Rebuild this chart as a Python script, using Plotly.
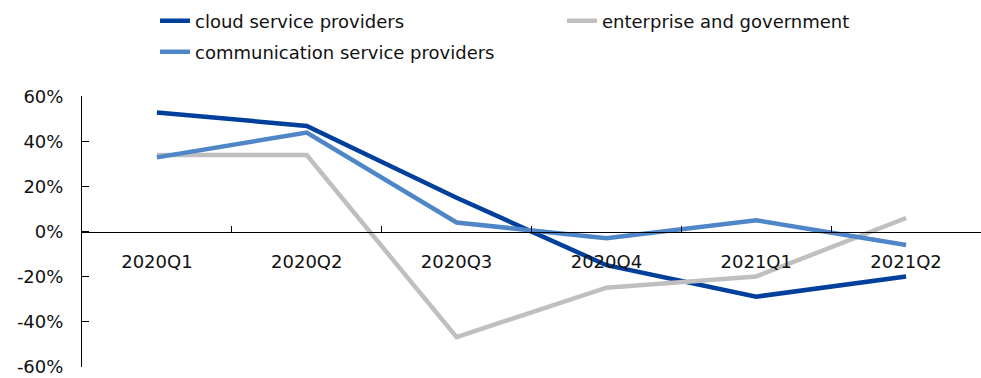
import plotly.graph_objects as go

quarters = ["2020Q1", "2020Q2", "2020Q3", "2020Q4", "2021Q1", "2021Q2"]
cloud = [53, 47, 15, -15, -29, -20]
enterprise = [34, 34, -47, -25, -20, 6]
communication = [33, 44, 4, -3, 5, -6]

y_tickvals = [60, 40, 20, 0, -20, -40, -60]
y_ticktext = ["60%", "40%", "20%", "0%", "-20%", "-40%", "-60%"]

FONT = "DejaVu Sans"
W, H = 981, 378

fig = go.Figure()
fig.add_trace(go.Scatter(x=quarters, y=cloud, name="cloud service providers",
                         mode="lines", line=dict(color="#00409C", width=4.5),
                         legend="legend"))
fig.add_trace(go.Scatter(x=quarters, y=enterprise, name="enterprise and government",
                         mode="lines", line=dict(color="#BFBFBF", width=4.5),
                         legend="legend"))
fig.add_trace(go.Scatter(x=quarters, y=communication, name="communication service providers",
                         mode="lines", line=dict(color="#4F86C8", width=4.5),
                         legend="legend2"))

legend_common = dict(orientation="h", xref="container", yref="container",
                     xanchor="left", yanchor="middle", bgcolor="rgba(0,0,0,0)",
                     font=dict(family=FONT, size=18, color="#111111"),
                     itemwidth=30)

fig.update_layout(
    width=W, height=H,
    margin=dict(l=82, r=0, t=96, b=11),
    paper_bgcolor="white", plot_bgcolor="white",
    font=dict(family=FONT, size=18, color="#111111"),
    showlegend=True,
    legend=dict(**legend_common, x=155 / W, y=1 - 21 / H, entrywidth=412 - 50),
    legend2=dict(**legend_common, x=155 / W, y=1 - 52 / H),
    xaxis=dict(
        type="category", range=[-0.5, 5.5],
        anchor="free", position=0.5,
        showline=True, linecolor="black", linewidth=1,
        ticks="inside", ticklen=6, tickcolor="black", tickson="boundaries",
        ticklabelstandoff=14, showgrid=False, zeroline=False,
        tickfont=dict(family=FONT, size=18, color="#111111"),
    ),
    yaxis=dict(
        range=[-60.3, 60.3], tickvals=y_tickvals, ticktext=y_ticktext,
        showline=True, linecolor="black", linewidth=1,
        ticks="inside", ticklen=7, tickcolor="black",
        ticklabelstandoff=14, showgrid=False, zeroline=False,
        tickfont=dict(family=FONT, size=18, color="#111111"),
    ),
)

fig.write_html("out.html")
